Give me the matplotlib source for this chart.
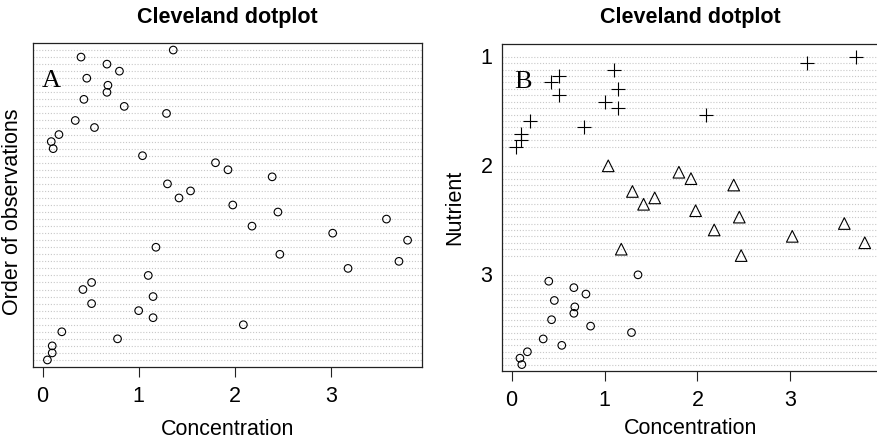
import numpy as np
import matplotlib
matplotlib.use("Agg")
import matplotlib.pyplot as plt

plt.rcParams['font.family'] = ['Liberation Sans', 'DejaVu Sans']

# Data: concentration per observation (obs 1..45), and nutrient group
concentration = [0.05, 0.10, 0.10, 0.78, 0.20, 2.09, 1.15, 1.00, 0.51, 1.15,
                 0.42, 0.51, 1.10, 3.18, 3.71,
                 2.47, 1.18, 3.80, 3.02, 2.18, 3.58, 2.45, 1.98, 1.42, 1.54,
                 1.30, 2.39, 1.93, 1.80, 1.04,
                 0.11, 0.09, 0.17, 0.54, 0.34, 1.29, 0.85, 0.43, 0.67, 0.68,
                 0.46, 0.80, 0.67, 0.40, 1.36]
nutrient = [1] * 15 + [2] * 15 + [3] * 15
group_labels = ['1', '2', '3']
group_markers = {1: '+', 2: '^', 3: 'o'}
x_ticks = [0, 1, 2, 3]

title_text = "Cleveland dotplot"
xlab = "Concentration"

W, H = 878, 441
fig = plt.figure(figsize=(W / 100, H / 100), dpi=100)

def px_axes(left, top, right, bottom):
    return fig.add_axes([left / W, 1 - bottom / H, (right - left) / W, (bottom - top) / H])

conc = np.array(concentration)
nut = np.array(nutrient)
n = len(conc)
xr = conc.max() - conc.min()
xlim = (conc.min() - 0.04 * xr, conc.max() + 0.04 * xr)

grid_kw = dict(color='#c8c8c8', lw=0.8, linestyle=(0, (1, 1.6)), zorder=1)
fs = 15.5

def style(ax):
    for s in ax.spines.values():
        s.set_linewidth(0.9)
        s.set_color('#222222')
    ax.tick_params(axis='x', length=7.5, width=0.8, pad=6.5, labelsize=fs,
                   color='#222222')
    ax.set_xticks(x_ticks)
    ax.set_xticklabels([str(t) for t in x_ticks])
    ax.set_xlim(*xlim)

# ---- Panel A ----
axA = px_axes(33, 43, 422, 367)
yA = np.arange(1, n + 1)
for yy in yA:
    axA.axhline(yy, **grid_kw)
axA.scatter(conc, yA, s=30, facecolors='none', edgecolors='black',
            linewidths=0.8, zorder=3)
axA.set_ylim(0, n + 1)
axA.set_yticks([])
style(axA)
axA.text(0.046, 0.883, 'A', transform=axA.transAxes, ha='center', va='center',
         fontsize=19, family=['Liberation Serif', 'DejaVu Serif'])

# ---- Panel B ----
axB = px_axes(502.3, 44, 878.7, 371)
groups = sorted(set(nutrient))
ng = len(groups)
yB = np.zeros(n)
gpos = {}
for g in groups:
    idx = np.where(nut == g)[0]
    offset = ng - g
    yB[idx] = offset * 2 + offset * 15 + np.arange(1, len(idx) + 1)
    gpos[g] = yB[idx].max() + 1
for yy in yB:
    axB.axhline(yy, **grid_kw)
for g in groups:
    m = nut == g
    mk = group_markers[g]
    if mk == '+':
        axB.scatter(conc[m], yB[m], marker='+', s=110, c='black',
                    linewidths=0.8, zorder=3)
    elif mk == '^':
        axB.scatter(conc[m], yB[m], marker='^', s=70, facecolors='none',
                    edgecolors='black', linewidths=0.8, zorder=3)
    else:
        axB.scatter(conc[m], yB[m], marker='o', s=30, facecolors='none',
                    edgecolors='black', linewidths=0.8, zorder=3)
axB.set_ylim(0, yB.max() + 2)
axB.set_yticks([gpos[g] - 0.8 for g in groups])
axB.set_yticklabels(group_labels)
axB.tick_params(axis='y', length=0, pad=7, labelsize=fs)
style(axB)
axB.text(0.055, 0.885, 'B', transform=axB.transAxes, ha='center', va='center',
         fontsize=19, family=['Liberation Serif', 'DejaVu Serif'])

# ---- Titles and axis labels ----
fig.text(227.5 / W, 1 - 23.5 / H, title_text, ha='center', va='baseline',
         fontsize=fs, fontweight='bold')
fig.text(690.5 / W, 1 - 23.5 / H, title_text, ha='center', va='baseline',
         fontsize=fs, fontweight='bold')
fig.text(227.5 / W, 1 - 435 / H, xlab, ha='center', va='baseline', fontsize=fs)
fig.text(690.5 / W, 1 - 434 / H, xlab, ha='center', va='baseline', fontsize=fs)
fig.text(13 / W, 1 - 212 / H, "Order of observations", ha='center', va='center',
         rotation=90, fontsize=fs)
fig.text(455 / W, 1 - 207.5 / H, "Nutrient", ha='center', va='center',
         rotation=90, fontsize=fs)

fig.savefig("out.png", dpi=100)
